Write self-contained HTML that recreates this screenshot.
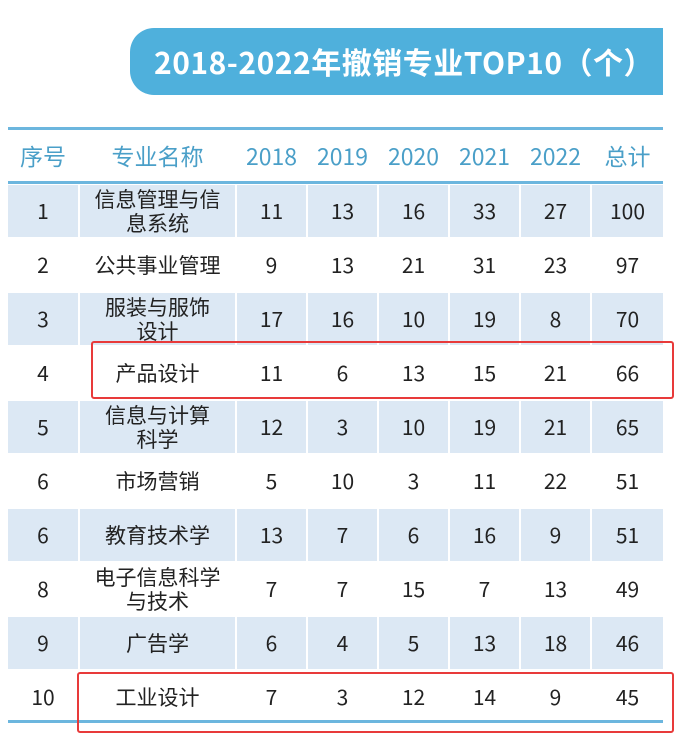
<!DOCTYPE html>
<html><head><meta charset="utf-8"><style>
body{margin:0;width:676px;height:733px;background:#fff;position:relative;overflow:hidden;font-family:"Liberation Sans","Noto Sans CJK SC",sans-serif}
.title{position:absolute;left:130px;top:28px;width:533px;height:67px;background:#4fb0dc;border-radius:24px 0 0 24px;color:#fff;font-weight:bold;font-size:30px;line-height:67px;padding-left:24px;box-sizing:border-box;font-family:"Noto Sans CJK SC",sans-serif;letter-spacing:0.5px;white-space:nowrap}
.hl{position:absolute;left:8px;width:655px;height:3px;background:#6cb6de}
.row{position:absolute;left:8px;width:655px;height:54px}
.sh .c{background:#dce8f4}
.c{position:absolute;top:2px;height:52px;display:flex;align-items:center;justify-content:center;text-align:center;font-size:21px;color:#222;line-height:24px;font-family:"Noto Sans CJK SC",sans-serif}
.h .c{color:#4a9fc8;font-size:23px;background:none}
.box{position:absolute;border:2px solid #e83a3a;border-radius:3px}
</style></head><body>
<div class="title">2018-2022年撤销专业TOP10（个）</div>
<div class="hl" style="top:127px"></div>
<div class="hl" style="top:181px"></div>
<div class="hl" style="top:720px"></div>
<div id="t"></div>
<div class="box" style="left:91px;top:341px;width:579px;height:54px"></div>
<div class="box" style="left:77px;top:672px;width:593px;height:57px"></div>
<script>
var cols=[[0,70],[72,155],[229,69],[300,69],[371,69],[442,69],[513,69],[584,71]];
var data=[["序号","专业名称","2018","2019","2020","2021","2022","总计"],
["1","信息管理与信<br>息系统","11","13","16","33","27","100"],
["2","公共事业管理","9","13","21","31","23","97"],
["3","服装与服饰<br>设计","17","16","10","19","8","70"],
["4","产品设计","11","6","13","15","21","66"],
["5","信息与计算<br>科学","12","3","10","19","21","65"],
["6","市场营销","5","10","3","11","22","51"],
["6","教育技术学","13","7","6","16","9","51"],
["8","电子信息科学<br>与技术","7","7","15","7","13","49"],
["9","广告学","6","4","5","13","18","46"],
["10","工业设计","7","3","12","14","9","45"]];
var h="";
data.forEach(function(r,i){
 var top=i==0?127:183+(i-1)*54;
 h+='<div class="row'+(i==0?' h':(i%2==1?' sh':''))+'" style="top:'+top+'px">';
 r.forEach(function(v,j){h+='<div class="c" style="left:'+cols[j][0]+'px;width:'+cols[j][1]+'px">'+v+'</div>';});
 h+='</div>';
});
document.getElementById('t').innerHTML=h;
</script>
</body></html>
